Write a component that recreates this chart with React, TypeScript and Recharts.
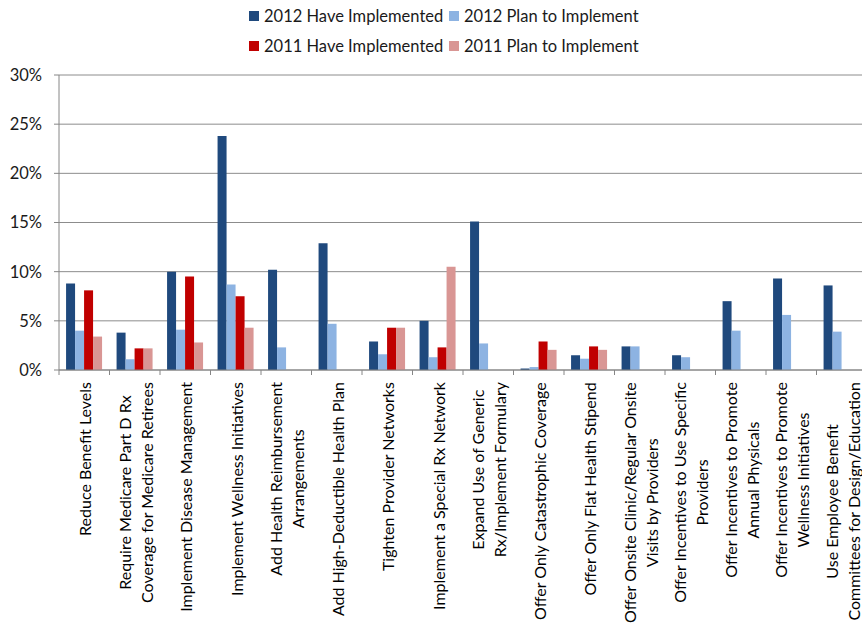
import React from "react";
import { BarChart, Bar, XAxis, YAxis, CartesianGrid } from "recharts";

const categories = [
  "Reduce Benefit Levels",
  "Require Medicare Part D Rx\nCoverage for Medicare Retirees",
  "Implement Disease Management",
  "Implement Wellness Initiatives",
  "Add Health Reimbursement\nArrangements",
  "Add High-Deductible Health Plan",
  "Tighten Provider Networks",
  "Implement a Special Rx Network",
  "Expand Use of Generic\nRx/Implement Formulary",
  "Offer Only Catastrophic Coverage",
  "Offer Only Flat Health Stipend",
  "Offer Onsite Clinic/Regular Onsite\nVisits by Providers",
  "Offer Incentives to Use Specific\nProviders",
  "Offer Incentives to Promote\nAnnual Physicals",
  "Offer Incentives to Promote\nWellness Initiatives",
  "Use Employee Benefit\nCommittees for Design/Education",
];

const have2012 = [8.8, 3.8, 10.0, 23.8, 10.2, 12.9, 2.9, 5.0, 15.1, 0.15, 1.5, 2.4, 1.5, 7.0, 9.3, 8.6];
const plan2012 = [4.0, 1.1, 4.1, 8.7, 2.3, 4.7, 1.6, 1.3, 2.7, 0.3, 1.15, 2.4, 1.3, 4.0, 5.6, 3.9];
const have2011 = [8.1, 2.2, 9.5, 7.5, 0, 0, 4.3, 2.3, 0, 2.9, 2.4, 0, 0, 0, 0, 0];
const plan2011 = [3.4, 2.2, 2.8, 4.3, 0, 0, 4.3, 10.5, 0, 2.05, 2.05, 0, 0, 0, 0, 0];

const yTicks = [0, 5, 10, 15, 20, 25, 30];

const series = [
  { key: "have2012", name: "2012 Have Implemented", color: "#1F497D" },
  { key: "plan2012", name: "2012 Plan to Implement", color: "#8DB3E2" },
  { key: "have2011", name: "2011 Have Implemented", color: "#C00000" },
  { key: "plan2011", name: "2011 Plan to Implement", color: "#D99694" },
];

const data = categories.map((name, i) => ({
  name,
  have2012: have2012[i],
  plan2012: plan2012[i],
  have2011: have2011[i],
  plan2011: plan2011[i],
}));

const FONT = "Lato, 'Open Sans', sans-serif";
const LABEL_SIZE = 16;
const CHART_W = 870;
const CHART_H = 631;
const Y_AXIS_W = 59;
const RIGHT = 3;
const BAND = (CHART_W - Y_AXIS_W - RIGHT) / categories.length;
const LINE_H = 22;
const AXIS_GRAY = "#868686";

let ctx: CanvasRenderingContext2D | null = null;
function textWidth(s: string) {
  if (!ctx) ctx = document.createElement("canvas").getContext("2d");
  if (!ctx) return s.length * 7.5;
  ctx.font = `${LABEL_SIZE}px ${FONT}`;
  return ctx.measureText(s).width;
}

// category label: rotated, lines centred on each other, block hung below the axis
function CategoryTick(props: any) {
  const { x, y, payload, index } = props;
  const lines = String(payload.value).split("\n");
  const maxW = Math.max(...lines.map(textWidth));
  const cy = y + 12 + maxW / 2;
  const left = x - BAND / 2;
  return (
    <g>
      <line x1={left} x2={left} y1={y} y2={y + 5} stroke={AXIS_GRAY} />
      {index === categories.length - 1 && (
        <line x1={left + BAND} x2={left + BAND} y1={y} y2={y + 5} stroke={AXIS_GRAY} />
      )}
      {lines.map((line, i) => {
        const cx = x + 0.5 + (i - (lines.length - 1) / 2) * LINE_H;
        return (
          <text
            key={i}
            x={cx}
            y={cy}
            transform={`rotate(-90, ${cx}, ${cy})`}
            textAnchor="middle"
            dominantBaseline="central"
            fontSize={LABEL_SIZE}
            fontFamily={FONT}
            fill="#000"
          >
            {line}
          </text>
        );
      })}
    </g>
  );
}

function LegendBlock() {
  const cols = [249, 449];
  const rows = [15.5, 45.5];
  return (
    <>
      {series.map((s, i) => (
        <div
          key={s.key}
          style={{
            position: "absolute",
            left: cols[i % 2],
            top: rows[Math.floor(i / 2)] - 10,
            height: 20,
            display: "flex",
            alignItems: "center",
            fontFamily: FONT,
            fontSize: 16.5,
            color: "#1a1a1a",
            whiteSpace: "nowrap",
            zIndex: 1,
          }}
        >
          <span style={{ width: 10, height: 10, background: s.color, marginRight: 5 }} />
          {s.name}
        </div>
      ))}
    </>
  );
}

export default function App() {
  return (
    <div
      style={{
        position: "fixed",
        left: 0,
        top: 0,
        width: 862,
        height: 631,
        overflow: "hidden",
        background: "#fff",
      }}
    >
      <LegendBlock />
      <div style={{ position: "absolute", left: 0, top: 0 }}>
        <BarChart
          width={CHART_W}
          height={CHART_H}
          data={data}
          margin={{ top: 75, right: RIGHT, bottom: 0, left: 0 }}
          barCategoryGap="14%"
          barGap={0}
        >
          <CartesianGrid vertical={false} stroke="#8C8C8C" />
          <XAxis
            dataKey="name"
            interval={0}
            height={CHART_H - 75 - 295}
            tickLine={false}
            tickSize={0}
            tickMargin={0}
            stroke={AXIS_GRAY}
            tick={<CategoryTick />}
          />
          <YAxis
            width={Y_AXIS_W}
            domain={[0, 30]}
            ticks={yTicks}
            tickFormatter={(v) => `${v}%`}
            tickSize={5}
            tickMargin={12}
            stroke={AXIS_GRAY}
            tick={{ fontSize: 16.5, fill: "#1a1a1a", fontFamily: FONT }}
          />
          {series.map((s) => (
            <Bar key={s.key} dataKey={s.key} name={s.name} fill={s.color} isAnimationActive={false} />
          ))}
        </BarChart>
      </div>
    </div>
  );
}
